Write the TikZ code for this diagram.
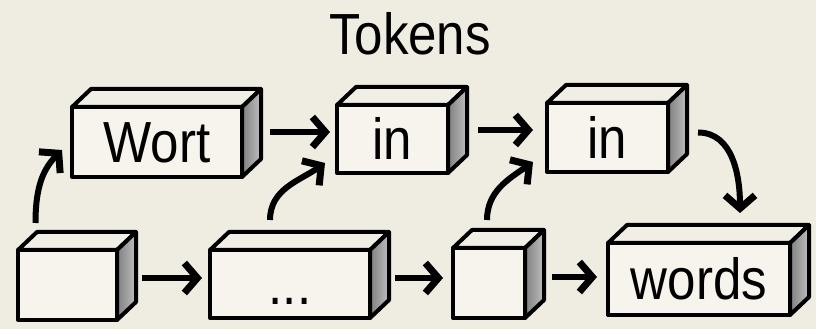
\documentclass[tikz,border=0pt]{standalone}
\usepackage{fontspec}
\setmainfont{Liberation Sans}[FakeStretch=0.88]
\usetikzlibrary{arrows.meta}
\definecolor{paper}{HTML}{EFECE2}
\definecolor{facefill}{HTML}{F6F4ED}
\definecolor{topfill}{HTML}{F1EEE6}
\tikzset{
  tok/.style={draw, line width=4pt, line join=round, fill=facefill, inner sep=0pt,
    outer sep=0pt, text height=42pt, text depth=0pt, font=\fontsize{58}{60}\selectfont},
  face/.style={draw, line width=4pt, line join=round},
  arr/.style={line width=6pt, -{Straight Barb[length=13pt,width=30pt,line width=7pt]}}
}
\begin{document}
\begin{tikzpicture}[x=1pt, y=1pt]
    \fill[paper] (0,0) rectangle (816,329);
    \useasboundingbox (0,0) rectangle (816,329);
    \node (title) at (410,295) {\fontsize{58}{60}\selectfont Tokens};
    \node[tok, minimum width=170, minimum height=70] (w) at (157,187) {Wort};
    \node[tok, minimum width=111, minimum height=68] (i1) at (392.5,190) {in};
    \node[tok, minimum width=121, minimum height=69] (i2) at (607.5,191.5) {in};
    \node[tok, minimum width=99, minimum height=70] (b1) at (67.5,44) {};
    \node[tok, minimum width=160, minimum height=68] (b2) at (290,45) {...};
    \node[tok, minimum width=72, minimum height=70] (b3) at (489,46) {};
    \node[tok, minimum width=182, minimum height=72] (b4) at (699,50) {words};
    \foreach \n in {w,i1,i2,b1,b2,b3,b4} {
      \draw[face, fill=topfill] (\n.north west) -- ([shift={(19,18)}]\n.north west)
        -- ([shift={(19,18)}]\n.north east) -- (\n.north east) -- cycle;
      \draw[face, left color=black!50, right color=black!25] (\n.north east)
        -- ([shift={(19,18)}]\n.north east) -- ([shift={(19,18)}]\n.south east)
        -- (\n.south east) -- cycle;
    }
    \draw[arr, shorten <=28pt, shorten >=7pt] ([yshift=10pt]w.east) -- ([yshift=10pt]w.east -| i1.west);
    \draw[arr, shorten <=30pt, shorten >=14pt] ([yshift=9pt]i1.east) -- ([yshift=9pt]i1.east -| i2.west);
    \draw[arr, shorten <=25pt, shorten >=8pt] ([yshift=7pt]b1.east) -- ([yshift=7pt]b1.east -| b2.west);
    \draw[arr, shorten <=25pt, shorten >=10pt] ([yshift=6pt]b2.east) -- ([yshift=6pt]b2.east -| b3.west);
    \draw[arr, shorten <=27pt, shorten >=11pt] ([yshift=6pt]b3.east) -- ([yshift=6pt]b3.east -| b4.west);
    \draw[arr] ([shift={(-32,27)}]b1.north) to[out=90, in=225] ([shift={(-10,-8)}]w.west);
    \draw[arr] ([shift={(-20,30)}]b2.north) to[out=90, in=215] ([shift={(-12,10)}]i1.south west);
    \draw[arr] ([shift={(-2,28)}]b3.north) to[out=90, in=215] ([shift={(-14,10)}]i2.south west);
    \draw[arr] ([shift={(30,5)}]i2.east) to[out=0, in=90] ([shift={(41,30)}]b4.north);
\end{tikzpicture}
\end{document}
